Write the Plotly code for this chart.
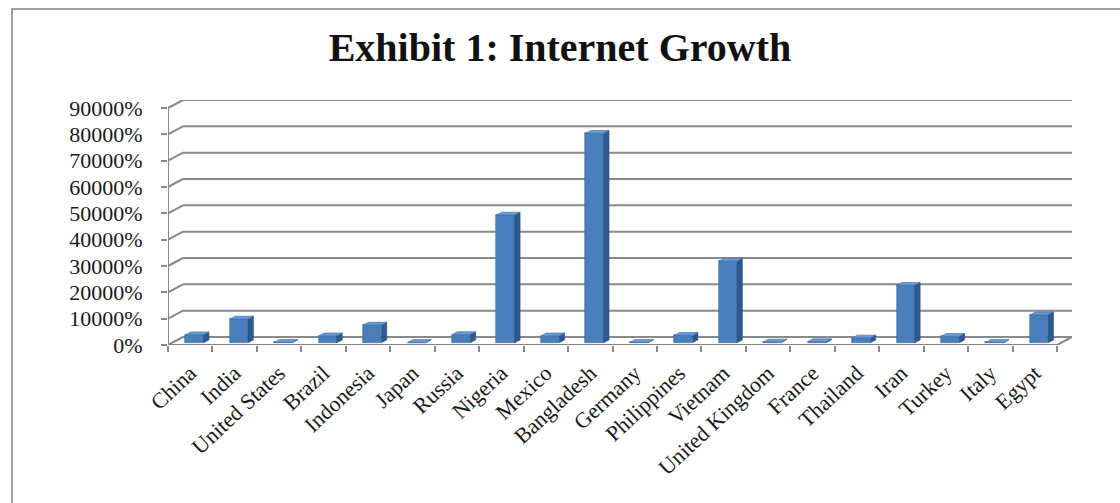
import plotly.graph_objects as go

# ---------------- data ----------------
categories = ["China", "India", "United States", "Brazil", "Indonesia", "Japan",
              "Russia", "Nigeria", "Mexico", "Bangladesh", "Germany", "Philippines",
              "Vietnam", "United Kingdom", "France", "Thailand", "Iran", "Turkey",
              "Italy", "Egypt"]
growth_pct = [3000, 9000, 150, 2600, 6700, 100, 3100, 48500, 2600, 79500,
              130, 2800, 31000, 250, 400, 1800, 21800, 2400, 150, 10600]
y_ticks = [0, 10000, 20000, 30000, 40000, 50000, 60000, 70000, 80000, 90000]
y_tick_labels = [f"{v}%" for v in y_ticks]
title_text = "Exhibit 1: Internet Growth"

# ---------------- 3-D look parameters (styling) ----------------
DX = 0.3375        # depth offset of back wall, in category units
DY = 3038          # depth offset of back wall, in value units
F0 = 0.28          # depth fraction of bar front face
BD = 0.36          # bar depth fraction
BW = 0.41          # bar width (category units)
FRONT = "#4a7ebb"
SIDE = "#2d5a8e"
TOP = "#6a9bd6"
GRID = "#8a8a8a"

n = len(categories)
x_lo, x_hi = -0.5, n - 0.5
y_top = y_ticks[-1]

fig = go.Figure()

# bar front faces
xs_front = [i + F0 * DX for i in range(n)]
fig.add_trace(go.Bar(
    x=xs_front, y=growth_pct, base=[F0 * DY] * n, width=BW,
    marker=dict(color=FRONT, line=dict(color="#3b6aa3", width=0.6)),
    hoverinfo="skip", showlegend=False,
))

# side and top faces
side_x, side_y, top_x, top_y = [], [], [], []
for i, v in enumerate(growth_pct):
    xc = i + F0 * DX
    b0 = F0 * DY
    xl, xr = xc - BW / 2, xc + BW / 2
    ddx, ddy = BD * DX, BD * DY
    side_x += [xr, xr + ddx, xr + ddx, xr, xr, None]
    side_y += [b0, b0 + ddy, b0 + ddy + v, b0 + v, b0, None]
    top_x += [xl, xr, xr + ddx, xl + ddx, xl, None]
    top_y += [b0 + v, b0 + v, b0 + v + ddy, b0 + v + ddy, b0 + v, None]

fig.add_trace(go.Scatter(x=side_x, y=side_y, mode="lines", fill="toself",
                         fillcolor=SIDE, line=dict(color="#264d7a", width=0.6),
                         hoverinfo="skip", showlegend=False))
fig.add_trace(go.Scatter(x=top_x, y=top_y, mode="lines", fill="toself",
                         fillcolor=TOP, line=dict(color="#3b6aa3", width=0.6),
                         hoverinfo="skip", showlegend=False))

# back-wall gridlines with diagonal connectors
shapes = []
for v in y_ticks:
    shapes.append(dict(type="line", xref="x", yref="y", layer="below",
                       x0=x_lo, y0=v, x1=x_lo + DX, y1=v + DY,
                       line=dict(color=GRID, width=2)))
    shapes.append(dict(type="line", xref="x", yref="y", layer="below",
                       x0=x_lo + DX, y0=v + DY, x1=x_hi + DX, y1=v + DY,
                       line=dict(color=GRID, width=2)))
# floor front edge and right edge
shapes.append(dict(type="line", xref="x", yref="y", layer="below",
                   x0=x_lo, y0=0, x1=x_hi, y1=0, line=dict(color=GRID, width=2)))
shapes.append(dict(type="line", xref="x", yref="y", layer="below",
                   x0=x_hi, y0=0, x1=x_hi + DX, y1=DY, line=dict(color=GRID, width=2)))
# front vertical value axis
shapes.append(dict(type="line", xref="x", yref="y", layer="below",
                   x0=x_lo, y0=0, x1=x_lo, y1=y_top, line=dict(color=GRID, width=2)))

# outer chart border
W, H = 1120, 503
ml, mr, mt, mb = 168, 48, 100, 158
pw, ph = W - ml - mr, H - mt - mb
def px_to_paper_x(px):
    return (px - ml) / pw
def py_to_paper_y(py):
    return (H - mb - py) / ph
shapes.append(dict(type="rect", xref="paper", yref="paper", layer="below",
                   x0=px_to_paper_x(12), y0=py_to_paper_y(515),
                   x1=px_to_paper_x(1135), y1=py_to_paper_y(9),
                   line=dict(color="#a0a0a0", width=2), fillcolor="rgba(0,0,0,0)"))

serif = "Liberation Serif, Times New Roman, serif"

fig.update_layout(
    width=W, height=H,
    margin=dict(l=ml, r=mr, t=mt, b=mb, autoexpand=False),
    paper_bgcolor="white", plot_bgcolor="rgba(0,0,0,0)",
    title=dict(text=f"<b>{title_text}</b>", x=0.5, xanchor="center",
               xref="container", y=1 - 47 / H, yref="container", yanchor="middle",
               font=dict(family=serif, size=40, color="#111111")),
    shapes=shapes,
    bargap=0,
    showlegend=False,
)

fig.update_xaxes(
    range=[x_lo, x_hi + DX], tickmode="array", tickvals=list(range(n)),
    ticktext=categories, tickangle=-43, ticks="", showgrid=False, zeroline=False,
    showline=False, ticklabelstandoff=10, automargin=False,
    tickfont=dict(family=serif, size=22, color="#1a1a1a"),
    minor=dict(tickmode="array", tickvals=[i - 0.5 for i in range(n + 1)],
               ticks="outside", ticklen=6, tickwidth=1.5, tickcolor=GRID,
               showgrid=False),
)
fig.update_yaxes(
    range=[0, y_top + DY], tickmode="array", tickvals=y_ticks,
    ticktext=y_tick_labels, ticks="outside", ticklen=6, tickwidth=1.5,
    tickcolor=GRID, showgrid=False, zeroline=False, showline=False,
    ticklabelstandoff=14, automargin=False,
    tickfont=dict(family=serif, size=22, color="#1a1a1a"),
)

fig.write_html("out.html", config={"displayModeBar": False},
               post_script="document.body.style.margin='0';document.body.style.overflow='hidden';")
